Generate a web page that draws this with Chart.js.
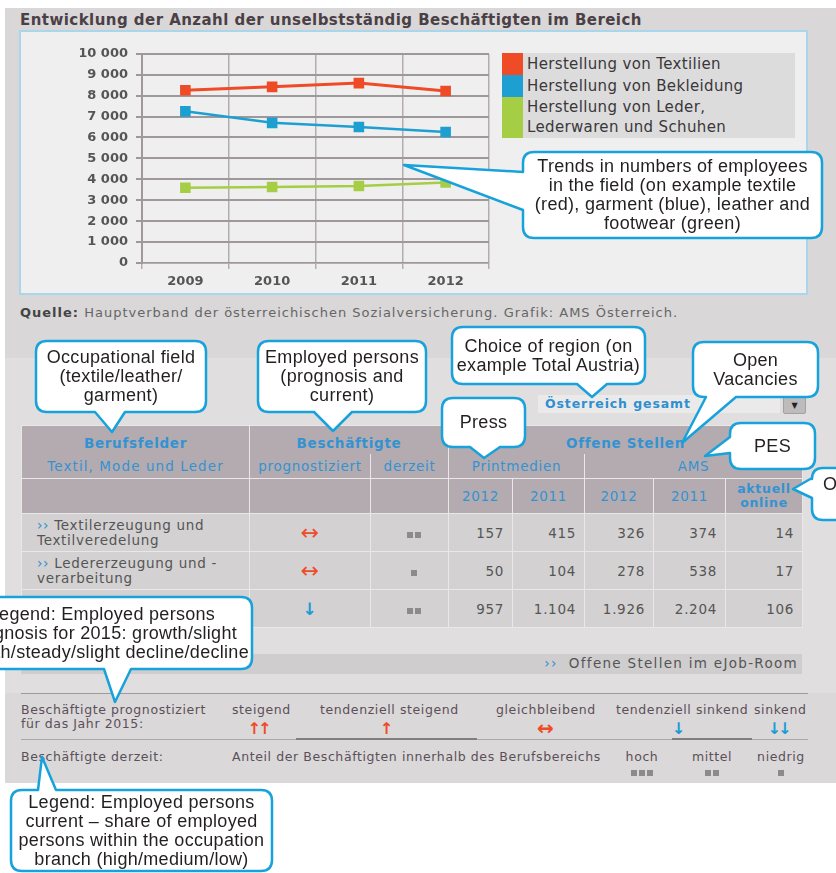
<!DOCTYPE html>
<html>
<head>
<meta charset="utf-8">
<script src="https://cdn.jsdelivr.net/npm/chart.js@4.4.1/dist/chart.umd.min.js"></script>
<style>
html, body { margin: 0; padding: 0; background: #fff; }
#page { position: relative; width: 836px; height: 873px; overflow: hidden; font-family: "DejaVu Sans", Verdana, sans-serif; color: #555; }
#screen { position: absolute; left: 0; top: 0; width: 836px; height: 873px; filter: blur(0.45px); }
.abs { position: absolute; white-space: nowrap; }
.blue { color: #2f8fcf; }
.sq { display: inline-block; width: 6px; height: 6px; background: #8c8a8b; margin: 0 1px; }
#chartBox { left: 19px; top: 30px; width: 785px; height: 261px; background: #f0eff0; border: 2px solid #a9d6ea; }
#trendChart { position: absolute; left: 80px; top: 38px; }
.lg-row { position: absolute; left: 502px; width: 293px; background: #dddcdd; }
.lg-sw { position: absolute; left: 0; top: 0; width: 21px; height: 100%; }
.lg-tx { position: absolute; left: 25px; font-size: 15px; letter-spacing: 0.35px; line-height: 20px; color: #3a3739; }
#tbl { position: absolute; left: 21px; top: 425px; border-collapse: collapse; table-layout: fixed; font-size: 13.5px; letter-spacing: 0.7px; }
#tbl td { border: 1px solid #e9e7e8; padding: 0; }
#tbl .h td { background: #b3abb0; color: #3393d2; text-align: center; }
#tbl .d td { background: #d3d1d2; color: #555; }
#tbl .num { text-align: right; padding-right: 8px; }
.note { position: absolute; display: flex; flex-direction: column; justify-content: center; align-items: center;
        font-family: "Liberation Sans", Arial, sans-serif; font-size: 18px; letter-spacing: 0.3px; line-height: 19px; color: #231f20; white-space: nowrap; z-index: 11; }
.note div { height: 19px; }
#notes { position: absolute; left: 0; top: 0; z-index: 10; }
.leg { font-size: 12.5px; letter-spacing: 0.6px; color: #5c4f58; line-height: 14px; }
</style>
</head>
<body>
<div id="page">
  <div id="screen">
    <div class="abs" style="left:5px;top:8px;width:831px;height:350px;background:#d9d7d8"></div>
    <div class="abs" style="left:5px;top:358px;width:831px;height:335px;background:#e0dedf"></div>
    <div class="abs" style="left:5px;top:693px;width:831px;height:90px;background:#dad8d9"></div>

    <div class="abs" style="left:20px;top:11px;font-size:15px;letter-spacing:0.45px;font-weight:bold;color:#4a4046">Entwicklung der Anzahl der unselbstständig Beschäftigten im Bereich</div>
    <div class="abs" id="chartBox"></div>
    <canvas id="trendChart" width="420" height="255"></canvas>
    <div id="legend"></div>

    <div class="abs" style="left:20px;top:305px;font-size:13px;letter-spacing:1px;color:#666"><b style="color:#444">Quelle:</b> Hauptverband der österreichischen Sozialversicherung. Grafik: AMS Österreich.</div>

    <div class="abs" style="left:538px;top:395px;width:242px;height:18px;background:#ebeaeb"></div>
    <div class="abs blue" style="left:545px;top:396px;font-size:12.5px;letter-spacing:0.9px;font-weight:bold">Österreich gesamt</div>
    <div class="abs" style="left:783px;top:397px;width:21px;height:15px;background:#bdbbbc;border:1px solid #a3a1a2;border-radius:2px;font-size:8px;line-height:15px;text-align:center;color:#222">▼</div>

    <table id="tbl">
      <colgroup>
        <col style="width:228px"><col style="width:121px"><col style="width:78px"><col style="width:64px">
        <col style="width:72px"><col style="width:69px"><col style="width:72px"><col style="width:77px">
      </colgroup>
      <tbody id="tbody"></tbody>
    </table>

    <div class="abs" style="left:21px;top:654px;width:781px;height:20px;background:#cfcdce"></div>
    <div class="abs" style="left:500px;top:655px;width:298px;text-align:right;font-size:13.5px;letter-spacing:1.3px;color:#555"><span class="blue">››</span>&nbsp; Offene Stellen im eJob-Room</div>

    <div class="abs" style="left:21px;top:693px;width:787px;height:1px;background:#9c9a9b"></div>
    <div class="abs" style="left:21px;top:739px;width:787px;height:1px;background:#aaa8a9"></div>
    <div class="abs" style="left:296px;top:738px;width:181px;height:2px;background:#7f7d7e"></div>
    <div class="abs" style="left:672px;top:738px;width:80px;height:2px;background:#7f7d7e"></div>
    <div id="keys"></div>
  </div>

  <svg id="notes" width="836" height="873"></svg>
  <div id="noteText"></div>
</div>

<script>
// Beschäftigte je Bereich, 2009-2012
const years = ['2009', '2010', '2011', '2012'];
const textilien = [8260, 8420, 8600, 8220];
const bekleidung = [7250, 6700, 6500, 6260];
const leder = [3600, 3630, 3680, 3850];
const seriesLabels = [['Herstellung von Textilien'], ['Herstellung von Bekleidung'], ['Herstellung von Leder,', 'Lederwaren und Schuhen']];
const seriesColors = ['#ee4b26', '#1d9fd2', '#a6ce45'];

// Tabelle Berufsfelder
const fields = [['Textilerzeugung und', 'Textilveredelung'], ['Ledererzeugung und -', 'verarbeitung'], ['', '']];
const prognose = ['gleich', 'gleich', 'sinkend'];
const anteil = [2, 1, 2];
const print2012 = [157, 50, 957];
const print2011 = [415, 104, 1104];
const ams2012 = [326, 278, 1926];
const ams2011 = [374, 538, 2204];
const aktuellOnline = [14, 17, 106];

const RED = '#ee4b26';
const BLUE = '#1d9bd6';

function fmtSpace(v) { return String(v).replace(/\B(?=(\d{3})+(?!\d))/g, ' '); }
function fmtDot(v) { return String(v).replace(/\B(?=(\d{3})+(?!\d))/g, '.'); }
function squares(n) { return '<span class="sq"></span>'.repeat(n); }

// legend next to the chart
const legendRows = [[53, 22], [75, 22], [97, 41]];
document.getElementById('legend').innerHTML = seriesLabels.map((lines, i) => {
    const [top, h] = legendRows[i];
    return `<div class="lg-row" style="top:${top}px;height:${h}px">
      <div class="lg-sw" style="background:${seriesColors[i]}"></div>
      <div class="lg-tx" style="top:${i === 2 ? 0 : 1}px">${lines.join('<br>')}</div></div>`;
}).join('');

const tickFont = { family: 'DejaVu Sans', size: 13, weight: 'bold' };

new Chart(document.getElementById('trendChart'), {
    type: 'line',
    data: {
        labels: years,
        datasets: [textilien, bekleidung, leder].map((values, i) => ({
            label: seriesLabels[i].join(' '),
            data: values,
            borderColor: seriesColors[i],
            backgroundColor: seriesColors[i],
            borderWidth: i === 0 ? 3 : 2.5,
            pointStyle: 'rect',
            pointRadius: 7.5,
            pointBorderWidth: 0,
            tension: 0
        }))
    },
    options: {
        responsive: false,
        animation: false,
        layout: { padding: { top: 12, right: 11, left: 0, bottom: 0 } },
        plugins: { legend: { display: false }, tooltip: { enabled: false } },
        scales: {
            x: {
                offset: true,
                grid: { offset: true, color: '#b3adb0', lineWidth: 1.5, tickLength: 6 },
                border: { color: '#b3adb0' },
                ticks: { padding: 5, color: '#555', font: tickFont },
                afterFit: s => { s.height = 30; }
            },
            y: {
                min: 0,
                max: 10000,
                ticks: { stepSize: 1000, padding: 8, color: '#555', font: tickFont, callback: v => fmtSpace(v) },
                grid: { color: '#9e989b', lineWidth: 2, tickLength: 6 },
                border: { color: '#9e989b', width: 2 },
                afterFit: s => { s.width = 62; }
            }
        }
    }
});

// table
function trendMark(t) {
    if (t === 'gleich') return `<span style="color:${RED};font-size:22px">↔</span>`;
    return `<span style="color:${BLUE};font-size:17px;font-weight:bold">↓</span>`;
}
let html = `
<tr class="h" style="height:28px"><td style="font-weight:bold;border-bottom:0;vertical-align:bottom;padding-bottom:3px">Berufsfelder</td>
  <td colspan="2" style="font-weight:bold;border-bottom:0;vertical-align:bottom;padding-bottom:3px">Beschäftigte</td>
  <td colspan="5" style="font-weight:bold;border-bottom:0;vertical-align:bottom;padding-bottom:3px">Offene Stellen</td></tr>
<tr class="h" style="height:25px"><td style="border-top:0;letter-spacing:1.1px">Textil, Mode und Leder</td><td style="border-top:0">prognostiziert</td><td style="border-top:0">derzeit</td>
  <td colspan="2" style="border-top:0">Printmedien</td><td colspan="3" style="border-top:0">AMS</td></tr>
<tr class="h" style="height:35px"><td></td><td></td><td></td><td>2012</td><td>2011</td><td>2012</td><td>2011</td>
  <td style="font-size:12.5px;line-height:14px;font-weight:bold">aktuell<br>online</td></tr>`;
fields.forEach((f, i) => {
    const label = f[0] ? `<span class="blue">››</span> ${f[0]}<br>${f[1]}` : '';
    html += `<tr class="d" style="height:38px">
      <td style="padding-left:15px;line-height:15px">${label}</td>
      <td style="text-align:center">${trendMark(prognose[i])}</td>
      <td style="text-align:center;padding-left:8px">${squares(anteil[i])}</td>
      <td class="num">${fmtDot(print2012[i])}</td><td class="num">${fmtDot(print2011[i])}</td>
      <td class="num">${fmtDot(ams2012[i])}</td><td class="num">${fmtDot(ams2011[i])}</td>
      <td class="num">${fmtDot(aktuellOnline[i])}</td></tr>`;
});
document.getElementById('tbody').innerHTML = html;

// key below the table
const keys = [
    ['Beschäftigte prognostiziert', 21, 703],
    ['für das Jahr 2015:', 21, 717],
    ['steigend', 232, 703],
    ['tendenziell steigend', 320, 703],
    ['gleichbleibend', 496, 703],
    ['tendenziell sinkend', 616, 703],
    ['sinkend', 754, 703],
    ['Beschäftigte derzeit:', 21, 750],
    ['Anteil der Beschäftigten innerhalb des Berufsbereichs', 232, 750]
];
let kh = keys.map(([t, x, y]) => `<div class="abs leg" style="left:${x}px;top:${y}px">${t}</div>`).join('');
const arrows = [['↑↑', RED, 258], ['↑', RED, 385], ['↔', RED, 544], ['↓', BLUE, 677], ['↓↓', BLUE, 778]];
kh += arrows.map(([a, c, x]) => `<div class="abs" style="left:${x - 30}px;width:60px;text-align:center;top:${a === '↔' ? 716 : 719}px;font-size:${a === '↔' ? 20 : 16}px;font-weight:bold;letter-spacing:-3px;color:${c}">${a}</div>`).join('');
const levels = [['hoch', 3, 642], ['mittel', 2, 712], ['niedrig', 1, 781]];
kh += levels.map(([t, n, x]) => `<div class="abs leg" style="left:${x - 30}px;width:60px;text-align:center;top:750px">${t}</div>
  <div class="abs" style="left:${x - 30}px;width:60px;text-align:center;top:767px;line-height:8px">${squares(n)}</div>`).join('');
document.getElementById('keys').innerHTML = kh;

// speech-bubble annotations
const notes = [
    { x: 523, y: 152, w: 299, h: 86, side: 'left', a: 172, b: 210, tx: 404, ty: 165,
      lines: ['Trends in numbers of employees', 'in the field (on example textile', '(red), garment (blue), leather and', 'footwear (green)'] },
    { x: 36, y: 341, w: 170, h: 71, side: 'bottom', a: 95, b: 125, tx: 112, ty: 432,
      lines: ['Occupational field', '(textile/leather/', 'garment)'] },
    { x: 258, y: 341, w: 168, h: 71, side: 'bottom', a: 314, b: 352, tx: 333, ty: 431,
      lines: ['Employed persons', '(prognosis and', 'current)'] },
    { x: 452, y: 327, w: 193, h: 57, side: 'bottom', a: 577, b: 607, tx: 592, ty: 397,
      lines: ['Choice of region (on', 'example Total Austria)'] },
    { x: 693, y: 342, w: 125, h: 55, side: 'bottom', a: 706, b: 736, tx: 682, ty: 443,
      lines: ['Open', 'Vacancies'] },
    { x: 442, y: 398, w: 83, h: 49, side: 'bottom', a: 470, b: 500, tx: 484, ty: 458,
      lines: ['Press'] },
    { x: 730, y: 423, w: 85, h: 46, side: 'left', a: 437, b: 453, tx: 705, ty: 456,
      lines: ['PES'] },
    { x: 812, y: 468, w: 76, h: 52, side: 'left', a: 478, b: 498, tx: 793, ty: 489,
      lines: ['Online', ''] },
    { x: -48, y: 597, w: 300, h: 72, side: 'bottom', a: 104, b: 131, tx: 115, ty: 702,
      lines: ['Legend: Employed persons', 'prognosis for 2015: growth/slight', 'growth/steady/slight decline/decline'] },
    { x: 11, y: 790, w: 261, h: 81, side: 'top', a: 38, b: 56, tx: 42, ty: 757,
      lines: ['Legend: Employed persons', 'current – share of employed', 'persons within the occupation', 'branch (high/medium/low)'] }
];

function bubblePath(n) {
    const { x, y, w, h } = n, r = 11, R = x + w, B = y + h;
    let d = `M${x + r},${y}`;
    if (n.side === 'top') d += ` L${n.a},${y} L${n.tx},${n.ty} L${n.b},${y}`;
    d += ` L${R - r},${y} Q${R},${y} ${R},${y + r}`;
    d += ` L${R},${B - r} Q${R},${B} ${R - r},${B}`;
    if (n.side === 'bottom') d += ` L${n.b},${B} L${n.tx},${n.ty} L${n.a},${B}`;
    d += ` L${x + r},${B} Q${x},${B} ${x},${B - r}`;
    if (n.side === 'left') d += ` L${x},${n.b} L${n.tx},${n.ty} L${x},${n.a}`;
    d += ` L${x},${y + r} Q${x},${y} ${x + r},${y} Z`;
    return d;
}
document.getElementById('notes').innerHTML = notes.map(n =>
    `<path d="${bubblePath(n)}" fill="#fff" stroke="#18a2dc" stroke-width="2.5" stroke-linejoin="round"/>`).join('');
document.getElementById('noteText').innerHTML = notes.map(n =>
    `<div class="note" style="left:${n.x}px;top:${n.y}px;width:${n.w}px;height:${n.h}px">${n.lines.map(l => `<div>${l}</div>`).join('')}</div>`).join('');
</script>
</body>
</html>
